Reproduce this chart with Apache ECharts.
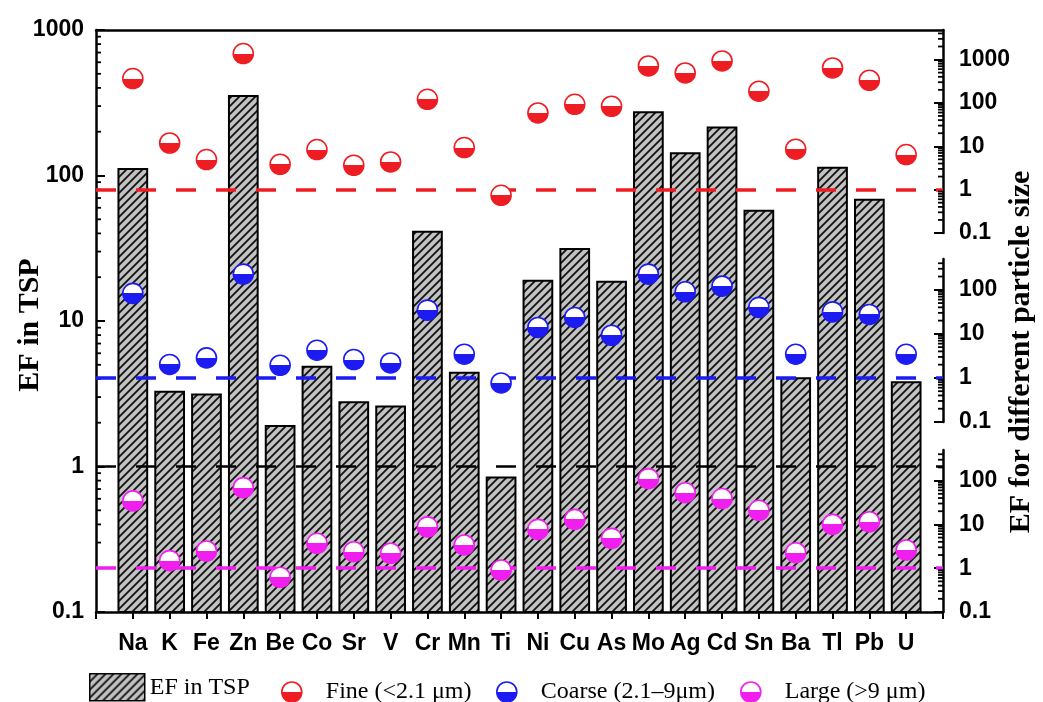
<!DOCTYPE html>
<html>
<head>
<meta charset="utf-8">
<script src="https://cdn.jsdelivr.net/npm/echarts@6/dist/echarts.min.js"></script>
<style>
  html, body { margin: 0; padding: 0; background: #fff; }
  #chart { width: 1043px; height: 702px; }
</style>
</head>
<body>
<div id="chart"></div>
<script>
// Enrichment factors of elements in TSP and in three particle-size fractions
const elements = ['Na','K','Fe','Zn','Be','Co','Sr','V','Cr','Mn','Ti','Ni','Cu','As','Mo','Ag','Cd','Sn','Ba','Tl','Pb','U'];
const efTSP    = [111, 3.27, 3.13, 352, 1.90, 4.85, 2.76, 2.58, 41.1, 4.41, 0.84, 18.9, 31.3, 18.6, 272, 142, 214, 57.3, 4.04, 113, 68.2, 3.79];
const efFine   = [365, 11.9, 4.94, 1375, 3.85, 8.4, 3.65, 4.35, 121, 9.35, 0.74, 58.7, 93, 83.7, 711, 491, 927, 186, 8.55, 640, 333, 6.45];
const efCoarse = [83, 2.02, 2.85, 227, 1.94, 4.26, 2.62, 2.19, 34.6, 3.46, 0.77, 14, 23.6, 9.3, 227, 90, 121, 40, 3.46, 31.6, 27.6, 3.46];
const efLarge  = [34.4, 1.49, 2.47, 69, 0.62, 3.7, 2.38, 2.19, 8.8, 3.39, 0.91, 7.7, 13, 4.8, 111, 53, 39, 21, 2.26, 10, 11.5, 2.6];

const seriesNames = ['EF in TSP', 'Fine (<2.1 \u03bcm)', 'Coarse (2.1\u20139\u03bcm)', 'Large (>9 \u03bcm)'];

const RED = '#ee1d23', BLUE = '#1b1bf2', MAGENTA = '#f01ff0';
const SANS = 'Liberation Sans', SERIF = 'Liberation Serif';

// Category axis with one blank slot on each side so the frame reaches past the outer bars
const cats = ['', ...elements, ' '];

// Grey fill with black diagonal hatching
function hatchCanvas() {
  const s = 8, c = document.createElement('canvas');
  c.width = s; c.height = s;
  const g = c.getContext('2d');
  g.fillStyle = '#c2c2c2';
  g.fillRect(0, 0, s, s);
  g.strokeStyle = '#111';
  g.lineWidth = 1.8;
  g.beginPath();
  g.moveTo(0, s); g.lineTo(s, 0);
  g.moveTo(-1, 1); g.lineTo(1, -1);
  g.moveTo(s - 1, s + 1); g.lineTo(s + 1, s - 1);
  g.stroke();
  return c;
}
const hatchFill = { image: hatchCanvas(), repeat: 'repeat' };

// Half-filled marker: white upper half, coloured lower half
const halfFill = c => new echarts.graphic.LinearGradient(0, 0, 0, 1, [
  { offset: 0, color: '#fff' }, { offset: 0.5, color: '#fff' },
  { offset: 0.5, color: c }, { offset: 1, color: c }
]);

// Log minor tick values (2..9 x 10^n) below an axis maximum
function minorValues(max) {
  const out = [];
  for (let e = -1; Math.pow(10, e) < max; e++) {
    for (let m = 2; m <= 9; m++) {
      const v = m * Math.pow(10, e);
      if (v < max) out.push(v);
    }
  }
  return out;
}

const MINOR_LEN = 5;

// Minor tick strokes along the left (dir = 1) or right (dir = -1) edge of a grid
function minorTickShapes(api, max, dir) {
  const band = api.size([1, 0])[0];
  return minorValues(max).map(v => {
    const p = api.coord([elements[0], v]);
    // 'Na' sits one band in from the left edge and 22 bands in from the right edge
    const x = dir > 0 ? p[0] - band : p[0] + band * (cats.length - 2);
    return { type: 'line', z2: 5, shape: { x1: x, y1: p[1], x2: x + dir * MINOR_LEN, y2: p[1] },
             style: { stroke: '#000', lineWidth: 1.8 } };
  });
}

const L = 96, W = 847;
const fmt = v => String(+(+v).toPrecision(4));
const AXMAX = [1000, 4800, 500, 500];

function logAxis(grid, max, side) {
  return {
    type: 'log', logBase: 10, gridIndex: grid, min: 0.1, max: max, position: side,
    axisLine: { show: true, onZero: false, lineStyle: { color: '#000', width: 2.5 } },
    axisTick: { show: true, inside: true, length: 9, lineStyle: { color: '#000', width: 2 } },
    axisLabel: {
      show: true, color: '#000', fontFamily: SANS, fontWeight: 'bold', fontSize: 23,
      margin: side === 'left' ? 12 : 16, formatter: fmt, showMaxLabel: side === 'left'
    },
    splitLine: { show: false }
  };
}

function hiddenCat(grid) {
  return { type: 'category', gridIndex: grid, data: cats, boundaryGap: false, show: false };
}

function dashAt1(color, width) {
  return {
    silent: true, symbol: 'none', z: 4,
    label: { show: false },
    lineStyle: { color: color, type: [20, 20], width: width, opacity: 1 },
    emphasis: { disabled: true },
    data: [{ yAxis: 1 }]
  };
}

// Half-filled circle markers for one particle-size fraction, plus that axis's minor ticks
function sizeSeries(name, values, xAxis, yAxis, color) {
  const fill = halfFill(color);
  return {
    type: 'custom', name: name, xAxisIndex: xAxis, yAxisIndex: yAxis, z: 10, clip: false,
    data: values.map((v, i) => [elements[i], v]),
    encode: { x: 0, y: 1 },
    itemStyle: { color: color },
    renderItem: (params, api) => {
      const p = api.coord([api.value(0), api.value(1)]);
      const children = [{
        type: 'circle', z2: 10, shape: { cx: p[0], cy: p[1], r: 10 },
        style: { fill: fill, stroke: color, lineWidth: 1.6 }
      }];
      if (params.dataIndex === 0) children.push(...minorTickShapes(api, AXMAX[yAxis], -1));
      return { type: 'group', children: children };
    },
    markLine: dashAt1(color, 3.5)
  };
}

const legendText = { fontFamily: SERIF, fontSize: 24, color: '#000' };
function circleLegend(left, name, color) {
  return {
    left: left, top: 680, padding: 0, itemWidth: 20, itemHeight: 20, selectedMode: false,
    data: [{ name: name, icon: 'circle',
             itemStyle: { color: halfFill(color), borderColor: color, borderWidth: 1.6 } }],
    textStyle: Object.assign({ padding: [0, 0, 0, 19] }, legendText)
  };
}

const chart = echarts.init(document.getElementById('chart'), null, { renderer: 'canvas' });
chart.setOption({
  animation: false,
  backgroundColor: '#fff',
  grid: [
    { left: L, width: W, top: 30, height: 582 },
    { left: L, width: W, top: 30, height: 203 },
    { left: L, width: W, top: 259, height: 163 },
    { left: L, width: W, top: 450, height: 162 }
  ],
  xAxis: [
    {
      type: 'category', gridIndex: 0, data: cats, boundaryGap: false, position: 'bottom',
      axisLine: { show: true, onZero: false, lineStyle: { color: '#000', width: 2.5 } },
      axisTick: { show: true, inside: false, length: 7, interval: 0, lineStyle: { color: '#000', width: 2 } },
      axisLabel: { interval: 0, color: '#000', fontFamily: SANS, fontWeight: 'bold', fontSize: 23, margin: 20 },
      splitLine: { show: false }
    },
    {
      type: 'category', gridIndex: 0, data: cats, boundaryGap: false, position: 'top',
      axisLine: { show: true, onZero: false, lineStyle: { color: '#000', width: 2.5 } },
      axisTick: { show: false }, axisLabel: { show: false }, splitLine: { show: false }
    },
    hiddenCat(1), hiddenCat(2), hiddenCat(3)
  ],
  yAxis: [
    logAxis(0, AXMAX[0], 'left'),
    logAxis(1, AXMAX[1], 'right'),
    logAxis(2, AXMAX[2], 'right'),
    logAxis(3, AXMAX[3], 'right')
  ],
  legend: [
    {
      left: 89, top: 673, padding: 0, itemWidth: 55, itemHeight: 27, selectedMode: false,
      data: [{ name: seriesNames[0], icon: 'rect',
               itemStyle: { color: hatchFill, borderColor: '#000', borderWidth: 1.5 } }],
      textStyle: legendText
    },
    circleLegend(281, seriesNames[1], RED),
    circleLegend(496, seriesNames[2], BLUE),
    circleLegend(740, seriesNames[3], MAGENTA)
  ],
  graphic: [
    { type: 'text', x: 30, y: 325, rotation: Math.PI / 2,
      style: { text: 'EF in TSP', fill: '#000', font: 'bold 30px "Liberation Serif"', align: 'center', verticalAlign: 'middle' } },
    { type: 'text', x: 1021, y: 352, rotation: Math.PI / 2,
      style: { text: 'EF for different particle size', fill: '#000', font: 'bold 30px "Liberation Serif"', align: 'center', verticalAlign: 'middle' } }
  ],
  series: [
    {
      type: 'custom', name: seriesNames[0], xAxisIndex: 0, yAxisIndex: 0, z: 2, clip: false,
      data: efTSP.map((v, i) => [elements[i], v]),
      encode: { x: 0, y: 1 },
      itemStyle: { color: hatchFill },
      renderItem: (params, api) => {
        const top = api.coord([api.value(0), api.value(1)]);
        const base = api.coord([api.value(0), 0.1]);
        const w = api.size([1, 0])[0] * 0.78;
        const children = [{
          type: 'rect',
          shape: { x: top[0] - w / 2, y: top[1], width: w, height: base[1] - top[1] },
          style: { fill: hatchFill, stroke: '#000', lineWidth: 2 }
        }];
        if (params.dataIndex === 0) children.push(...minorTickShapes(api, AXMAX[0], 1));
        return { type: 'group', children: children };
      },
      markLine: dashAt1('#000', 2.5)
    },
    sizeSeries(seriesNames[1], efFine, 2, 1, RED),
    sizeSeries(seriesNames[2], efCoarse, 3, 2, BLUE),
    sizeSeries(seriesNames[3], efLarge, 4, 3, MAGENTA)
  ]
});
</script>
</body>
</html>
